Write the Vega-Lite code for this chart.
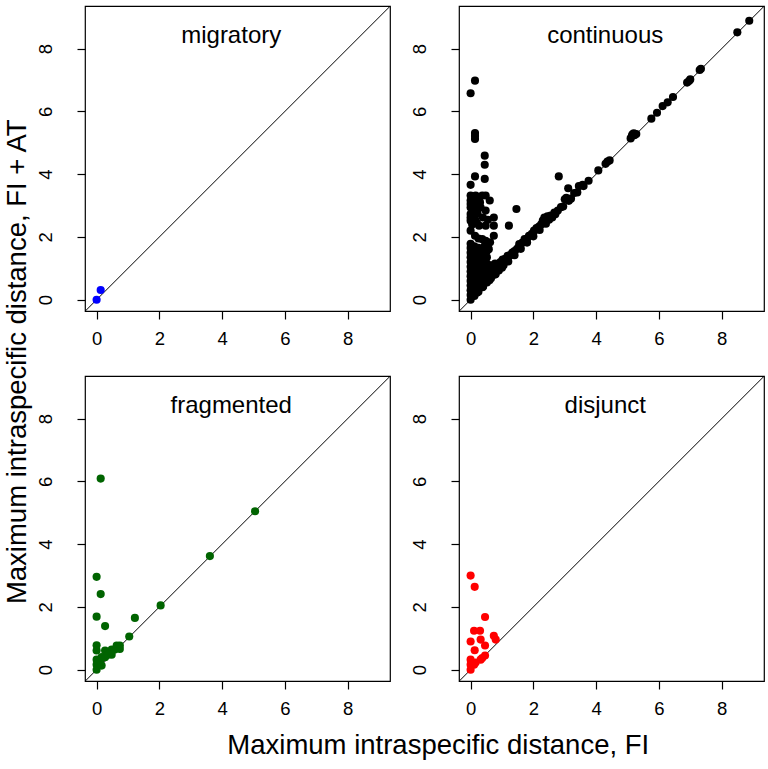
{
  "$schema": "https://vega.github.io/schema/vega-lite/v6.json",
  "background": "white",
  "padding": {"left": 3, "top": 5, "right": 5, "bottom": 5},
  "datasets": {
    "diag": [{"x": -1, "y": -1}, {"x": 10, "y": 10}],
    "pts": [
      {"group": "migratory", "fi": 0.0, "fiat": 0.0},
      {"group": "migratory", "fi": 0.13, "fiat": 0.31},

      {"group": "continuous", "fi": 0.00, "fiat": 6.58},
      {"group": "continuous", "fi": 0.14, "fiat": 6.98},
      {"group": "continuous", "fi": 0.14, "fiat": 5.31},
      {"group": "continuous", "fi": 0.14, "fiat": 5.12},
      {"group": "continuous", "fi": 0.14, "fiat": 5.22},
      {"group": "continuous", "fi": 0.45, "fiat": 4.59},
      {"group": "continuous", "fi": 0.45, "fiat": 4.30},
      {"group": "continuous", "fi": 0.45, "fiat": 3.85},
      {"group": "continuous", "fi": 0.14, "fiat": 3.93},
      {"group": "continuous", "fi": 0.00, "fiat": 3.66},
      {"group": "continuous", "fi": 2.81, "fiat": 3.93},
      {"group": "continuous", "fi": 8.88, "fiat": 8.89},
      {"group": "continuous", "fi": 8.50, "fiat": 8.52},
      {"group": "continuous", "fi": 7.30, "fiat": 7.32},
      {"group": "continuous", "fi": 7.34, "fiat": 7.36},
      {"group": "continuous", "fi": 6.96, "fiat": 6.97},
      {"group": "continuous", "fi": 6.90, "fiat": 6.92},
      {"group": "continuous", "fi": 7.00, "fiat": 7.02},
      {"group": "continuous", "fi": 6.45, "fiat": 6.46},
      {"group": "continuous", "fi": 6.28, "fiat": 6.29},
      {"group": "continuous", "fi": 6.12, "fiat": 6.17},
      {"group": "continuous", "fi": 5.94, "fiat": 5.96},
      {"group": "continuous", "fi": 5.76, "fiat": 5.77},
      {"group": "continuous", "fi": 5.10, "fiat": 5.14},
      {"group": "continuous", "fi": 5.14, "fiat": 5.22},
      {"group": "continuous", "fi": 5.20, "fiat": 5.30},
      {"group": "continuous", "fi": 5.28, "fiat": 5.28},
      {"group": "continuous", "fi": 5.22, "fiat": 5.24},
      {"group": "continuous", "fi": 5.16, "fiat": 5.27},
      {"group": "continuous", "fi": 4.43, "fiat": 4.44},
      {"group": "continuous", "fi": 4.30, "fiat": 4.33},
      {"group": "continuous", "fi": 4.36, "fiat": 4.40},
      {"group": "continuous", "fi": 4.07, "fiat": 4.12},
      {"group": "continuous", "fi": 3.76, "fiat": 3.79},
      {"group": "continuous", "fi": 3.57, "fiat": 3.66},
      {"group": "continuous", "fi": 3.45, "fiat": 3.62},
      {"group": "continuous", "fi": 3.30, "fiat": 3.40},
      {"group": "continuous", "fi": 3.11, "fiat": 3.55},
      {"group": "continuous", "fi": 3.13, "fiat": 3.15},
      {"group": "continuous", "fi": 3.05, "fiat": 3.25},
      {"group": "continuous", "fi": 3.00, "fiat": 3.20},
      {"group": "continuous", "fi": 2.88, "fiat": 2.95},
      {"group": "continuous", "fi": 2.78, "fiat": 2.84},
      {"group": "continuous", "fi": 2.67, "fiat": 2.78},
      {"group": "continuous", "fi": 2.55, "fiat": 2.68},
      {"group": "continuous", "fi": 2.45, "fiat": 2.66},
      {"group": "continuous", "fi": 2.35, "fiat": 2.62},
      {"group": "continuous", "fi": 2.30, "fiat": 2.52},
      {"group": "continuous", "fi": 2.25, "fiat": 2.40},
      {"group": "continuous", "fi": 2.18, "fiat": 2.33},
      {"group": "continuous", "fi": 2.10, "fiat": 2.28},
      {"group": "continuous", "fi": 2.02, "fiat": 2.20},
      {"group": "continuous", "fi": 1.95, "fiat": 2.10},
      {"group": "continuous", "fi": 1.86, "fiat": 2.04},
      {"group": "continuous", "fi": 1.80, "fiat": 1.95},
      {"group": "continuous", "fi": 1.72, "fiat": 1.93},
      {"group": "continuous", "fi": 1.65, "fiat": 1.82},
      {"group": "continuous", "fi": 1.55, "fiat": 1.77},
      {"group": "continuous", "fi": 1.48, "fiat": 1.62},
      {"group": "continuous", "fi": 1.40, "fiat": 1.55},
      {"group": "continuous", "fi": 1.33, "fiat": 1.50},
      {"group": "continuous", "fi": 1.26, "fiat": 1.42},
      {"group": "continuous", "fi": 1.18, "fiat": 1.40},
      {"group": "continuous", "fi": 1.10, "fiat": 1.30},
      {"group": "continuous", "fi": 1.02, "fiat": 1.28},
      {"group": "continuous", "fi": 0.95, "fiat": 1.20},
      {"group": "continuous", "fi": 3.40, "fiat": 3.42},
      {"group": "continuous", "fi": 3.20, "fiat": 3.22},
      {"group": "continuous", "fi": 2.95, "fiat": 2.97},
      {"group": "continuous", "fi": 2.60, "fiat": 2.62},
      {"group": "continuous", "fi": 2.40, "fiat": 2.42},
      {"group": "continuous", "fi": 2.20, "fiat": 2.22},
      {"group": "continuous", "fi": 2.00, "fiat": 2.02},
      {"group": "continuous", "fi": 1.80, "fiat": 1.82},
      {"group": "continuous", "fi": 1.60, "fiat": 1.62},
      {"group": "continuous", "fi": 1.40, "fiat": 1.42},
      {"group": "continuous", "fi": 1.20, "fiat": 1.22},
      {"group": "continuous", "fi": 1.00, "fiat": 1.02},
      {"group": "continuous", "fi": 0.80, "fiat": 0.82},
      {"group": "continuous", "fi": 0.60, "fiat": 0.62},
      {"group": "continuous", "fi": 0.40, "fiat": 0.42},
      {"group": "continuous", "fi": 0.20, "fiat": 0.22},
      {"group": "continuous", "fi": 2.50, "fiat": 2.55},
      {"group": "continuous", "fi": 2.70, "fiat": 2.72},
      {"group": "continuous", "fi": 3.60, "fiat": 3.62},
      {"group": "continuous", "fi": 0.00, "fiat": 3.32},
      {"group": "continuous", "fi": 0.00, "fiat": 3.16},
      {"group": "continuous", "fi": 0.00, "fiat": 2.94},
      {"group": "continuous", "fi": 0.00, "fiat": 2.73},
      {"group": "continuous", "fi": 0.00, "fiat": 2.52},
      {"group": "continuous", "fi": 0.00, "fiat": 3.05},
      {"group": "continuous", "fi": 0.00, "fiat": 2.62},
      {"group": "continuous", "fi": 0.14, "fiat": 3.16},
      {"group": "continuous", "fi": 0.14, "fiat": 2.84},
      {"group": "continuous", "fi": 0.14, "fiat": 2.57},
      {"group": "continuous", "fi": 0.14, "fiat": 3.30},
      {"group": "continuous", "fi": 0.10, "fiat": 3.00},
      {"group": "continuous", "fi": 0.27, "fiat": 3.26},
      {"group": "continuous", "fi": 0.32, "fiat": 2.94},
      {"group": "continuous", "fi": 0.48, "fiat": 3.32},
      {"group": "continuous", "fi": 0.39, "fiat": 2.62},
      {"group": "continuous", "fi": 0.48, "fiat": 2.84},
      {"group": "continuous", "fi": 0.61, "fiat": 3.16},
      {"group": "continuous", "fi": 0.27, "fiat": 2.36},
      {"group": "continuous", "fi": 0.48, "fiat": 2.36},
      {"group": "continuous", "fi": 0.74, "fiat": 2.62},
      {"group": "continuous", "fi": 0.74, "fiat": 2.36},
      {"group": "continuous", "fi": 0.74, "fiat": 2.04},
      {"group": "continuous", "fi": 1.46, "fiat": 2.89},
      {"group": "continuous", "fi": 1.22, "fiat": 2.36},
      {"group": "continuous", "fi": 0.00, "fiat": 2.20},
      {"group": "continuous", "fi": 0.14, "fiat": 2.04},
      {"group": "continuous", "fi": 0.37, "fiat": 1.93},
      {"group": "continuous", "fi": 0.48, "fiat": 1.88},
      {"group": "continuous", "fi": 0.58, "fiat": 1.61},
      {"group": "continuous", "fi": 0.32, "fiat": 1.61},
      {"group": "continuous", "fi": 0.16, "fiat": 3.32},
      {"group": "continuous", "fi": 0.37, "fiat": 3.32},
      {"group": "continuous", "fi": 0.22, "fiat": 2.75},
      {"group": "continuous", "fi": 0.30, "fiat": 3.10},
      {"group": "continuous", "fi": 0.20, "fiat": 2.45},
      {"group": "continuous", "fi": 0.05, "fiat": 2.40},
      {"group": "continuous", "fi": 0.55, "fiat": 2.55},
      {"group": "continuous", "fi": 0.62, "fiat": 1.83},
      {"group": "continuous", "fi": 0.45, "fiat": 1.72},
      {"group": "continuous", "fi": 0.25, "fiat": 1.95},
      {"group": "continuous", "fi": 0.00, "fiat": 0.00},
      {"group": "continuous", "fi": 0.00, "fiat": 0.15},
      {"group": "continuous", "fi": 0.00, "fiat": 0.30},
      {"group": "continuous", "fi": 0.00, "fiat": 0.45},
      {"group": "continuous", "fi": 0.00, "fiat": 0.60},
      {"group": "continuous", "fi": 0.00, "fiat": 0.75},
      {"group": "continuous", "fi": 0.00, "fiat": 0.90},
      {"group": "continuous", "fi": 0.00, "fiat": 1.05},
      {"group": "continuous", "fi": 0.00, "fiat": 1.20},
      {"group": "continuous", "fi": 0.00, "fiat": 1.35},
      {"group": "continuous", "fi": 0.00, "fiat": 1.50},
      {"group": "continuous", "fi": 0.00, "fiat": 1.65},
      {"group": "continuous", "fi": 0.00, "fiat": 1.78},
      {"group": "continuous", "fi": 0.12, "fiat": 0.12},
      {"group": "continuous", "fi": 0.12, "fiat": 0.30},
      {"group": "continuous", "fi": 0.12, "fiat": 0.50},
      {"group": "continuous", "fi": 0.12, "fiat": 0.70},
      {"group": "continuous", "fi": 0.12, "fiat": 0.90},
      {"group": "continuous", "fi": 0.12, "fiat": 1.10},
      {"group": "continuous", "fi": 0.12, "fiat": 1.30},
      {"group": "continuous", "fi": 0.12, "fiat": 1.50},
      {"group": "continuous", "fi": 0.12, "fiat": 1.70},
      {"group": "continuous", "fi": 0.25, "fiat": 0.25},
      {"group": "continuous", "fi": 0.25, "fiat": 0.45},
      {"group": "continuous", "fi": 0.25, "fiat": 0.65},
      {"group": "continuous", "fi": 0.25, "fiat": 0.85},
      {"group": "continuous", "fi": 0.25, "fiat": 1.05},
      {"group": "continuous", "fi": 0.25, "fiat": 1.25},
      {"group": "continuous", "fi": 0.25, "fiat": 1.45},
      {"group": "continuous", "fi": 0.25, "fiat": 1.65},
      {"group": "continuous", "fi": 0.38, "fiat": 0.40},
      {"group": "continuous", "fi": 0.38, "fiat": 0.60},
      {"group": "continuous", "fi": 0.38, "fiat": 0.80},
      {"group": "continuous", "fi": 0.38, "fiat": 1.00},
      {"group": "continuous", "fi": 0.38, "fiat": 1.20},
      {"group": "continuous", "fi": 0.38, "fiat": 1.40},
      {"group": "continuous", "fi": 0.38, "fiat": 1.60},
      {"group": "continuous", "fi": 0.52, "fiat": 0.55},
      {"group": "continuous", "fi": 0.52, "fiat": 0.75},
      {"group": "continuous", "fi": 0.52, "fiat": 0.95},
      {"group": "continuous", "fi": 0.52, "fiat": 1.15},
      {"group": "continuous", "fi": 0.52, "fiat": 1.35},
      {"group": "continuous", "fi": 0.52, "fiat": 1.55},
      {"group": "continuous", "fi": 0.65, "fiat": 0.68},
      {"group": "continuous", "fi": 0.65, "fiat": 0.90},
      {"group": "continuous", "fi": 0.65, "fiat": 1.10},
      {"group": "continuous", "fi": 0.78, "fiat": 0.80},
      {"group": "continuous", "fi": 0.78, "fiat": 1.00},
      {"group": "continuous", "fi": 0.78, "fiat": 1.15},
      {"group": "continuous", "fi": 0.90, "fiat": 0.93},
      {"group": "continuous", "fi": 0.90, "fiat": 1.12},
      {"group": "continuous", "fi": 1.05, "fiat": 1.10},

      {"group": "fragmented", "fi": 0.13, "fiat": 6.09},
      {"group": "fragmented", "fi": 5.05, "fiat": 5.05},
      {"group": "fragmented", "fi": 3.61, "fiat": 3.62},
      {"group": "fragmented", "fi": 2.04, "fiat": 2.05},
      {"group": "fragmented", "fi": 0.00, "fiat": 2.96},
      {"group": "fragmented", "fi": 0.13, "fiat": 2.41},
      {"group": "fragmented", "fi": 0.00, "fiat": 1.69},
      {"group": "fragmented", "fi": 1.22, "fiat": 1.65},
      {"group": "fragmented", "fi": 0.27, "fiat": 1.39},
      {"group": "fragmented", "fi": 1.04, "fiat": 1.06},
      {"group": "fragmented", "fi": 0.00, "fiat": 0.78},
      {"group": "fragmented", "fi": 0.00, "fiat": 0.61},
      {"group": "fragmented", "fi": 0.27, "fiat": 0.61},
      {"group": "fragmented", "fi": 0.48, "fiat": 0.64},
      {"group": "fragmented", "fi": 0.64, "fiat": 0.77},
      {"group": "fragmented", "fi": 0.74, "fiat": 0.77},
      {"group": "fragmented", "fi": 0.58, "fiat": 0.64},
      {"group": "fragmented", "fi": 0.48, "fiat": 0.48},
      {"group": "fragmented", "fi": 0.74, "fiat": 0.66},
      {"group": "fragmented", "fi": 0.00, "fiat": 0.32},
      {"group": "fragmented", "fi": 0.00, "fiat": 0.16},
      {"group": "fragmented", "fi": 0.00, "fiat": 0.00},
      {"group": "fragmented", "fi": 0.11, "fiat": 0.27},
      {"group": "fragmented", "fi": 0.16, "fiat": 0.13},
      {"group": "fragmented", "fi": 0.27, "fiat": 0.40},
      {"group": "fragmented", "fi": 0.16, "fiat": 0.40},
      {"group": "fragmented", "fi": 0.37, "fiat": 0.48},

      {"group": "disjunct", "fi": 0.00, "fiat": 3.00},
      {"group": "disjunct", "fi": 0.13, "fiat": 2.64},
      {"group": "disjunct", "fi": 0.46, "fiat": 1.68},
      {"group": "disjunct", "fi": 0.11, "fiat": 1.24},
      {"group": "disjunct", "fi": 0.30, "fiat": 1.24},
      {"group": "disjunct", "fi": 0.00, "fiat": 0.90},
      {"group": "disjunct", "fi": 0.32, "fiat": 0.96},
      {"group": "disjunct", "fi": 0.74, "fiat": 1.08},
      {"group": "disjunct", "fi": 0.80, "fiat": 0.96},
      {"group": "disjunct", "fi": 0.13, "fiat": 0.62},
      {"group": "disjunct", "fi": 0.46, "fiat": 0.77},
      {"group": "disjunct", "fi": 0.00, "fiat": 0.32},
      {"group": "disjunct", "fi": 0.00, "fiat": 0.16},
      {"group": "disjunct", "fi": 0.00, "fiat": 0.00},
      {"group": "disjunct", "fi": 0.11, "fiat": 0.16},
      {"group": "disjunct", "fi": 0.16, "fiat": 0.23},
      {"group": "disjunct", "fi": 0.32, "fiat": 0.32},
      {"group": "disjunct", "fi": 0.46, "fiat": 0.45},
      {"group": "disjunct", "fi": 0.37, "fiat": 0.37}
    ]
  },
  "title": {
    "text": "Maximum intraspecific distance, FI",
    "orient": "bottom",
    "anchor": "middle",
    "font": "Liberation Sans",
    "fontSize": 27.5,
    "fontWeight": "normal",
    "color": "black",
    "offset": 14,
    "dx": 54
  },
  "vconcat": [
    {
      "title": {
        "text": "Maximum intraspecific distance, FI + AT",
        "orient": "left",
        "anchor": "middle",
        "font": "Liberation Sans",
        "fontSize": 27.5,
        "fontWeight": "normal",
        "color": "black",
        "offset": 4
      },
      "columns": 2,
      "spacing": {"row": 65, "column": 69},
      "bounds": "flush",
      "concat": [
        {
          "width": 305, "height": 305,
          "layer": [
            {"data": {"name": "diag"}, "mark": {"type": "line", "color": "black", "strokeWidth": 1, "clip": true},
             "encoding": {
               "x": {"field": "x", "type": "quantitative", "scale": {"domain": [-0.37, 9.35], "nice": false, "zero": false}, "axis": {"values": [0, 2, 4, 6, 8], "title": null, "labelBaseline": "alphabetic", "labelPadding": 25, "labelAlign": "center"}},
               "y": {"field": "y", "type": "quantitative", "scale": {"domain": [-0.36, 9.36], "nice": false, "zero": false}, "axis": {"values": [0, 2, 4, 6, 8], "title": null, "labelAngle": 270, "labelAlign": "center", "labelBaseline": "alphabetic", "labelPadding": 26}}}},
            {"data": {"name": "pts"}, "transform": [{"filter": "datum.group == 'migratory'"}],
             "mark": {"type": "circle", "size": 66, "color": "#0000FF", "opacity": 1},
             "encoding": {"x": {"field": "fi", "type": "quantitative"}, "y": {"field": "fiat", "type": "quantitative"}}},
            {"data": {"values": [{"label": "migratory"}]},
             "mark": {"type": "text", "font": "Liberation Sans", "fontSize": 24, "baseline": "alphabetic", "color": "black"},
             "encoding": {"text": {"field": "label"}, "x": {"datum": 4.29}, "y": {"datum": 8.17}}}
          ]
        },
        {
          "width": 305, "height": 305,
          "layer": [
            {"data": {"name": "diag"}, "mark": {"type": "line", "color": "black", "strokeWidth": 1, "clip": true},
             "encoding": {
               "x": {"field": "x", "type": "quantitative", "scale": {"domain": [-0.37, 9.35], "nice": false, "zero": false}, "axis": {"values": [0, 2, 4, 6, 8], "title": null, "labelBaseline": "alphabetic", "labelPadding": 25, "labelAlign": "center"}},
               "y": {"field": "y", "type": "quantitative", "scale": {"domain": [-0.36, 9.36], "nice": false, "zero": false}, "axis": {"values": [0, 2, 4, 6, 8], "title": null, "labelAngle": 270, "labelAlign": "center", "labelBaseline": "alphabetic", "labelPadding": 26}}}},
            {"data": {"name": "pts"}, "transform": [{"filter": "datum.group == 'continuous'"}],
             "mark": {"type": "circle", "size": 66, "color": "#000000", "opacity": 1},
             "encoding": {"x": {"field": "fi", "type": "quantitative"}, "y": {"field": "fiat", "type": "quantitative"}}},
            {"data": {"values": [{"label": "continuous"}]},
             "mark": {"type": "text", "font": "Liberation Sans", "fontSize": 24, "baseline": "alphabetic", "color": "black"},
             "encoding": {"text": {"field": "label"}, "x": {"datum": 4.29}, "y": {"datum": 8.17}}}
          ]
        },
        {
          "width": 305, "height": 305,
          "layer": [
            {"data": {"name": "diag"}, "mark": {"type": "line", "color": "black", "strokeWidth": 1, "clip": true},
             "encoding": {
               "x": {"field": "x", "type": "quantitative", "scale": {"domain": [-0.37, 9.35], "nice": false, "zero": false}, "axis": {"values": [0, 2, 4, 6, 8], "title": null, "labelBaseline": "alphabetic", "labelPadding": 25, "labelAlign": "center"}},
               "y": {"field": "y", "type": "quantitative", "scale": {"domain": [-0.36, 9.36], "nice": false, "zero": false}, "axis": {"values": [0, 2, 4, 6, 8], "title": null, "labelAngle": 270, "labelAlign": "center", "labelBaseline": "alphabetic", "labelPadding": 26}}}},
            {"data": {"name": "pts"}, "transform": [{"filter": "datum.group == 'fragmented'"}],
             "mark": {"type": "circle", "size": 66, "color": "#006400", "opacity": 1},
             "encoding": {"x": {"field": "fi", "type": "quantitative"}, "y": {"field": "fiat", "type": "quantitative"}}},
            {"data": {"values": [{"label": "fragmented"}]},
             "mark": {"type": "text", "font": "Liberation Sans", "fontSize": 24, "baseline": "alphabetic", "color": "black"},
             "encoding": {"text": {"field": "label"}, "x": {"datum": 4.29}, "y": {"datum": 8.17}}}
          ]
        },
        {
          "width": 305, "height": 305,
          "layer": [
            {"data": {"name": "diag"}, "mark": {"type": "line", "color": "black", "strokeWidth": 1, "clip": true},
             "encoding": {
               "x": {"field": "x", "type": "quantitative", "scale": {"domain": [-0.37, 9.35], "nice": false, "zero": false}, "axis": {"values": [0, 2, 4, 6, 8], "title": null, "labelBaseline": "alphabetic", "labelPadding": 25, "labelAlign": "center"}},
               "y": {"field": "y", "type": "quantitative", "scale": {"domain": [-0.36, 9.36], "nice": false, "zero": false}, "axis": {"values": [0, 2, 4, 6, 8], "title": null, "labelAngle": 270, "labelAlign": "center", "labelBaseline": "alphabetic", "labelPadding": 26}}}},
            {"data": {"name": "pts"}, "transform": [{"filter": "datum.group == 'disjunct'"}],
             "mark": {"type": "circle", "size": 66, "color": "#FF0000", "opacity": 1},
             "encoding": {"x": {"field": "fi", "type": "quantitative"}, "y": {"field": "fiat", "type": "quantitative"}}},
            {"data": {"values": [{"label": "disjunct"}]},
             "mark": {"type": "text", "font": "Liberation Sans", "fontSize": 24, "baseline": "alphabetic", "color": "black"},
             "encoding": {"text": {"field": "label"}, "x": {"datum": 4.29}, "y": {"datum": 8.17}}}
          ]
        }
      ]
    }
  ],
  "config": {
    "font": "Liberation Sans",
    "view": {"stroke": "black", "strokeWidth": 1.2},
    "axis": {
      "domain": false, "grid": false, "ticks": true,
      "tickColor": "black", "tickSize": 8, "tickWidth": 1.2,
      "labelFont": "Liberation Sans", "labelFontSize": 18.5, "labelColor": "black",
      "labelFlush": false, "labelOverlap": false
    }
  }
}
